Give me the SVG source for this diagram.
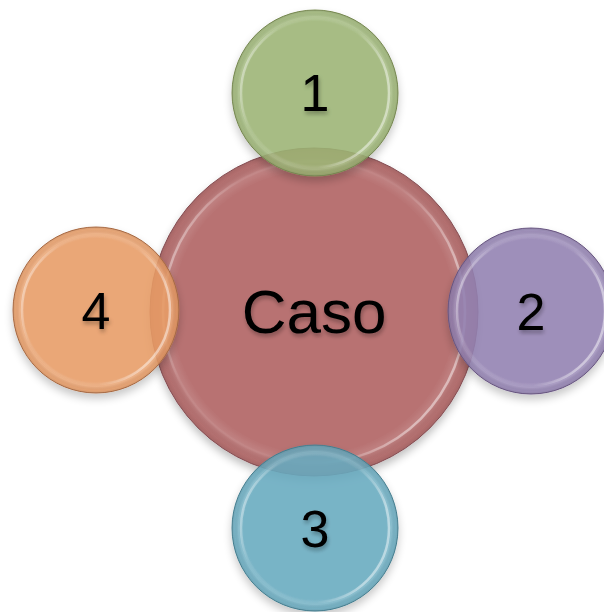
<svg xmlns="http://www.w3.org/2000/svg" width="604" height="612" viewBox="0 0 604 612">
<defs>
<filter id="shadow" x="-20%" y="-20%" width="140%" height="150%">
<feGaussianBlur in="SourceAlpha" stdDeviation="4"/>
<feOffset dx="0" dy="5" result="b"/>
<feComponentTransfer><feFuncA type="linear" slope="0.25"/></feComponentTransfer>
<feMerge><feMergeNode/><feMergeNode in="SourceGraphic"/></feMerge>
</filter>
<filter id="tshadow" x="-20%" y="-20%" width="140%" height="160%">
<feGaussianBlur in="SourceAlpha" stdDeviation="2"/>
<feOffset dx="1" dy="3"/>
<feComponentTransfer><feFuncA type="linear" slope="0.3"/></feComponentTransfer>
<feMerge><feMergeNode/><feMergeNode in="SourceGraphic"/></feMerge>
</filter>
<radialGradient id="gloss" cx="0.5" cy="0.5" r="0.5">
<stop offset="0.86" stop-color="#fff" stop-opacity="0"/>
<stop offset="0.92" stop-color="#fff" stop-opacity="0.12"/>
<stop offset="0.97" stop-color="#000" stop-opacity="0.03"/>
<stop offset="1" stop-color="#000" stop-opacity="0.1"/>
</radialGradient>
<linearGradient id="ring" x1="0" y1="0" x2="1" y2="0.3">
<stop offset="0" stop-color="#fff" stop-opacity="0.65"/>
<stop offset="0.25" stop-color="#fff" stop-opacity="0.05"/>
<stop offset="0.75" stop-color="#fff" stop-opacity="0.02"/>
<stop offset="1" stop-color="#fff" stop-opacity="0.45"/>
</linearGradient>
</defs>
<style>
.lbl{font-family:"Liberation Sans",Arial,sans-serif;fill:#000;text-anchor:middle;filter:url(#tshadow)}
.ring{fill:none;stroke:url(#ring);stroke-width:2.5}
.gl{fill:url(#gloss)}
.sat{fill-opacity:0.85;stroke-width:1}
</style>
<rect width="604" height="612" fill="#fff"/>
<g id="node-caso" filter="url(#shadow)">
<circle cx="314" cy="312" r="164" fill="#b87272" stroke="#8a4f55" stroke-width="1"/>
<circle cx="314" cy="312" r="164" class="gl"/>
<circle cx="314" cy="312" r="151" class="ring"/>
<text x="314" y="333" font-size="62" class="lbl">Caso</text>
</g>
<g id="node-1" filter="url(#shadow)">
<circle cx="315" cy="93" r="83" class="sat" fill="#9db675" stroke="#7d8f55"/>
<circle cx="315" cy="93" r="83" class="gl"/>
<circle cx="315" cy="93" r="74" class="ring"/>
<text x="315" y="111" font-size="52" class="lbl">1</text>
</g>
<g id="node-2" filter="url(#shadow)">
<circle cx="531" cy="311" r="83" class="sat" fill="#9482b4" stroke="#6e5a88"/>
<circle cx="531" cy="311" r="83" class="gl"/>
<circle cx="531" cy="311" r="74" class="ring"/>
<text x="531" y="330" font-size="52" class="lbl">2</text>
</g>
<g id="node-3" filter="url(#shadow)">
<circle cx="315" cy="528" r="83" class="sat" fill="#68adc2" stroke="#4a8597"/>
<circle cx="315" cy="528" r="83" class="gl"/>
<circle cx="315" cy="528" r="74" class="ring"/>
<text x="315" y="547" font-size="52" class="lbl">3</text>
</g>
<g id="node-4" filter="url(#shadow)">
<circle cx="96" cy="310" r="83" class="sat" fill="#eb9e66" stroke="#b07048"/>
<circle cx="96" cy="310" r="83" class="gl"/>
<circle cx="96" cy="310" r="74" class="ring"/>
<text x="96" y="329" font-size="52" class="lbl">4</text>
</g>
<g id="connectors"></g>
</svg>
